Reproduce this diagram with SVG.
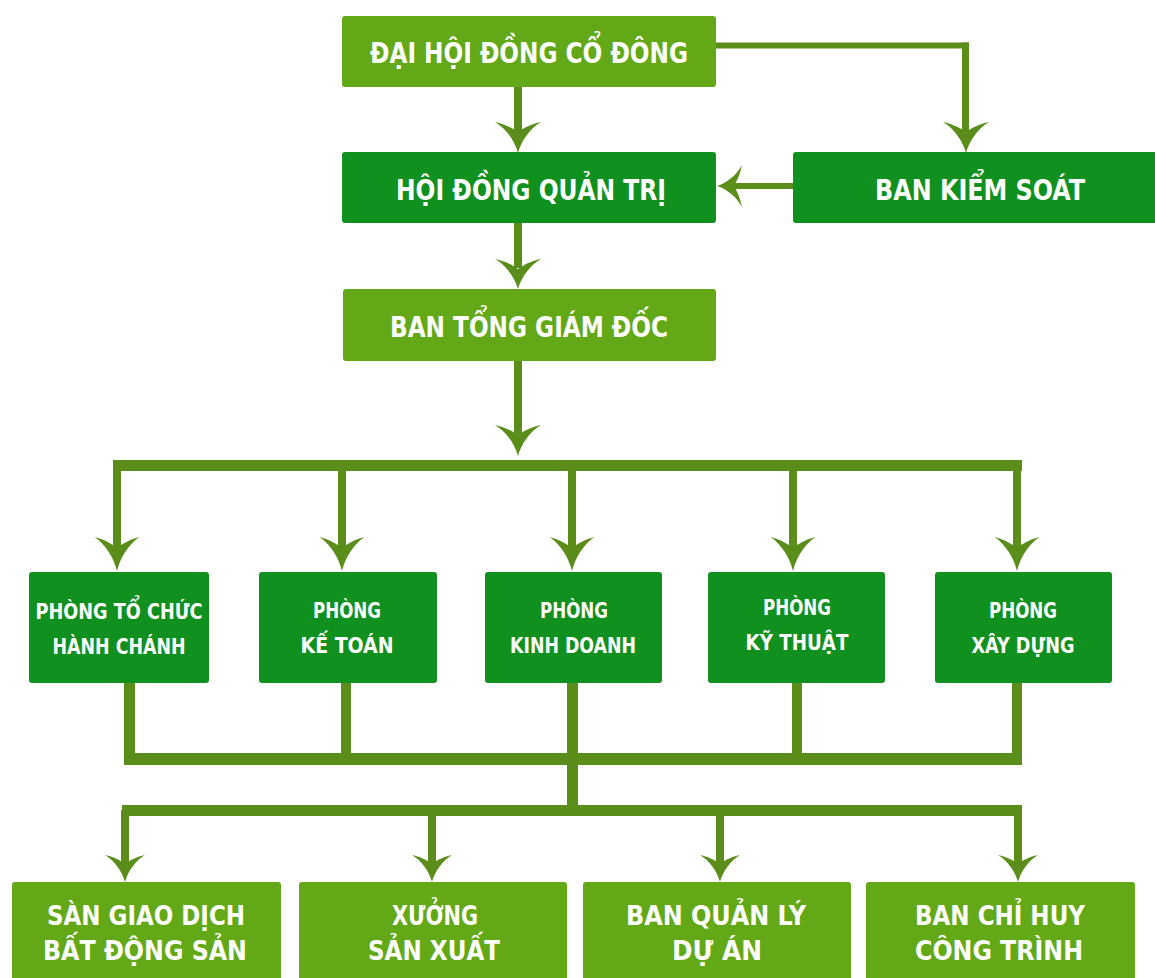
<svg xmlns="http://www.w3.org/2000/svg" xmlns:xlink="http://www.w3.org/1999/xlink" width="1155" height="978" viewBox="0 0 1155 978">
<style>
.light{fill:#63a917}
.dark{fill:#10901f}
.ln{fill:#5b8d1a}
text{fill:#ffffff;font-family:"DejaVu Sans Condensed","Liberation Sans",sans-serif;font-weight:bold;text-anchor:middle}
.t1{font-size:28.5px}
.t2{font-size:21px}
.t3{font-size:26.5px}
</style>
<defs>
<path id="ah" fill="#5b8d1a" d="M0,0 C-0.07,-0.38 -0.25,-0.78 -0.5,-1 C-0.3,-0.93 -0.12,-0.82 0,-0.66 C0.12,-0.82 0.3,-0.93 0.5,-1 C0.25,-0.78 0.07,-0.38 0,0 Z"/>
</defs>
<rect width="1155" height="978" fill="#ffffff"/>
<g id="connectors">
<rect class="ln" x="514" y="86" width="8" height="48"/>
<use href="#ah" transform="translate(518,153) scale(46,31)"/>
<rect class="ln" x="715" y="42.5" width="254" height="6"/>
<rect class="ln" x="962" y="42.5" width="7" height="90"/>
<use href="#ah" transform="translate(966,153) scale(46,31)"/>
<rect class="ln" x="730" y="183" width="64" height="6"/>
<use href="#ah" transform="translate(717,186) rotate(90) scale(42,25)"/>
<rect class="ln" x="514" y="223" width="8" height="45"/>
<use href="#ah" transform="translate(518,289) scale(46,30)"/>
<rect class="ln" x="514" y="360" width="8" height="75"/>
<use href="#ah" transform="translate(518,456) scale(46,31)"/>
<rect class="ln" x="121" y="460" width="901" height="11"/>
<rect class="ln" x="113" y="460" width="8" height="90"/>
<use href="#ah" transform="translate(117,571) scale(45,34)"/>
<rect class="ln" x="338" y="466" width="8" height="84"/>
<use href="#ah" transform="translate(342,571) scale(45,34)"/>
<rect class="ln" x="568" y="466" width="8" height="84"/>
<use href="#ah" transform="translate(572,571) scale(45,34)"/>
<rect class="ln" x="789" y="466" width="8" height="84"/>
<use href="#ah" transform="translate(793,571) scale(45,34)"/>
<rect class="ln" x="1013" y="466" width="8" height="84"/>
<use href="#ah" transform="translate(1017,571) scale(45,34)"/>
<rect class="ln" x="124" y="682" width="11" height="83"/>
<rect class="ln" x="341" y="682" width="10" height="83"/>
<rect class="ln" x="567" y="682" width="11" height="134"/>
<rect class="ln" x="792" y="682" width="10" height="83"/>
<rect class="ln" x="1012" y="682" width="10" height="83"/>
<rect class="ln" x="124" y="753" width="898" height="12"/>
<rect class="ln" x="122" y="805" width="900" height="11"/>
<rect class="ln" x="121" y="810" width="8" height="55"/>
<use href="#ah" transform="translate(125,882) scale(40,27)"/>
<rect class="ln" x="428" y="810" width="8" height="55"/>
<use href="#ah" transform="translate(432,882) scale(40,27)"/>
<rect class="ln" x="716" y="810" width="8" height="55"/>
<use href="#ah" transform="translate(720,882) scale(40,27)"/>
<rect class="ln" x="1014" y="810" width="8" height="55"/>
<use href="#ah" transform="translate(1018,882) scale(40,27)"/>
</g>
<g id="n-dhdcd">
<rect class="light" x="342" y="16" width="374" height="71" rx="3"/>
<text class="t1" x="529" y="63" textLength="318" lengthAdjust="spacingAndGlyphs">ĐẠI HỘI ĐỒNG CỔ ĐÔNG</text>
</g>
<g id="n-hdqt">
<rect class="dark" x="342" y="152" width="374" height="71" rx="3"/>
<text class="t1" x="531" y="200" textLength="270" lengthAdjust="spacingAndGlyphs">HỘI ĐỒNG QUẢN TRỊ</text>
</g>
<g id="n-bks">
<rect class="dark" x="793" y="152" width="367" height="71" rx="3"/>
<text class="t1" x="980" y="200" textLength="210" lengthAdjust="spacingAndGlyphs">BAN KIỂM SOÁT</text>
</g>
<g id="n-btgd">
<rect class="light" x="343" y="289" width="373" height="72" rx="3"/>
<text class="t1" x="529" y="337" textLength="278" lengthAdjust="spacingAndGlyphs">BAN TỔNG GIÁM ĐỐC</text>
</g>
<g id="n-tchc">
<rect class="dark" x="29" y="572" width="180" height="111" rx="3"/>
<text class="t2" x="119" y="619" textLength="167" lengthAdjust="spacingAndGlyphs">PHÒNG TỔ CHỨC</text>
<text class="t2" x="119" y="654" textLength="133" lengthAdjust="spacingAndGlyphs">HÀNH CHÁNH</text>
</g>
<g id="n-kt">
<rect class="dark" x="259" y="572" width="178" height="111" rx="3"/>
<text class="t2" x="347" y="618" textLength="68" lengthAdjust="spacingAndGlyphs">PHÒNG</text>
<text class="t2" x="347" y="653" textLength="93" lengthAdjust="spacingAndGlyphs">KẾ TOÁN</text>
</g>
<g id="n-kd">
<rect class="dark" x="485" y="572" width="177" height="111" rx="3"/>
<text class="t2" x="574" y="618" textLength="68" lengthAdjust="spacingAndGlyphs">PHÒNG</text>
<text class="t2" x="573" y="653" textLength="126" lengthAdjust="spacingAndGlyphs">KINH DOANH</text>
</g>
<g id="n-kythuat">
<rect class="dark" x="708" y="572" width="177" height="111" rx="3"/>
<text class="t2" x="797" y="615" textLength="68" lengthAdjust="spacingAndGlyphs">PHÒNG</text>
<text class="t2" x="797" y="650" textLength="103" lengthAdjust="spacingAndGlyphs">KỸ THUẬT</text>
</g>
<g id="n-xd">
<rect class="dark" x="935" y="572" width="177" height="111" rx="3"/>
<text class="t2" x="1023" y="618" textLength="68" lengthAdjust="spacingAndGlyphs">PHÒNG</text>
<text class="t2" x="1023" y="653" textLength="103" lengthAdjust="spacingAndGlyphs">XÂY DỰNG</text>
</g>
<g id="n-sgd">
<rect class="light" x="12" y="882" width="269" height="110" rx="3"/>
<text class="t3" x="146" y="925" textLength="198" lengthAdjust="spacingAndGlyphs">SÀN GIAO DỊCH</text>
<text class="t3" x="145" y="960" textLength="204" lengthAdjust="spacingAndGlyphs">BẤT ĐỘNG SẢN</text>
</g>
<g id="n-xsx">
<rect class="light" x="299" y="882" width="268" height="110" rx="3"/>
<text class="t3" x="435" y="925" textLength="86" lengthAdjust="spacingAndGlyphs">XƯỞNG</text>
<text class="t3" x="434" y="960" textLength="132" lengthAdjust="spacingAndGlyphs">SẢN XUẤT</text>
</g>
<g id="n-bqlda">
<rect class="light" x="583" y="882" width="268" height="110" rx="3"/>
<text class="t3" x="716" y="925" textLength="180" lengthAdjust="spacingAndGlyphs">BAN QUẢN LÝ</text>
<text class="t3" x="717" y="960" textLength="90" lengthAdjust="spacingAndGlyphs">DỰ ÁN</text>
</g>
<g id="n-bchct">
<rect class="light" x="866" y="882" width="269" height="110" rx="3"/>
<text class="t3" x="1000" y="925" textLength="170" lengthAdjust="spacingAndGlyphs">BAN CHỈ HUY</text>
<text class="t3" x="999" y="960" textLength="168" lengthAdjust="spacingAndGlyphs">CÔNG TRÌNH</text>
</g>
</svg>
